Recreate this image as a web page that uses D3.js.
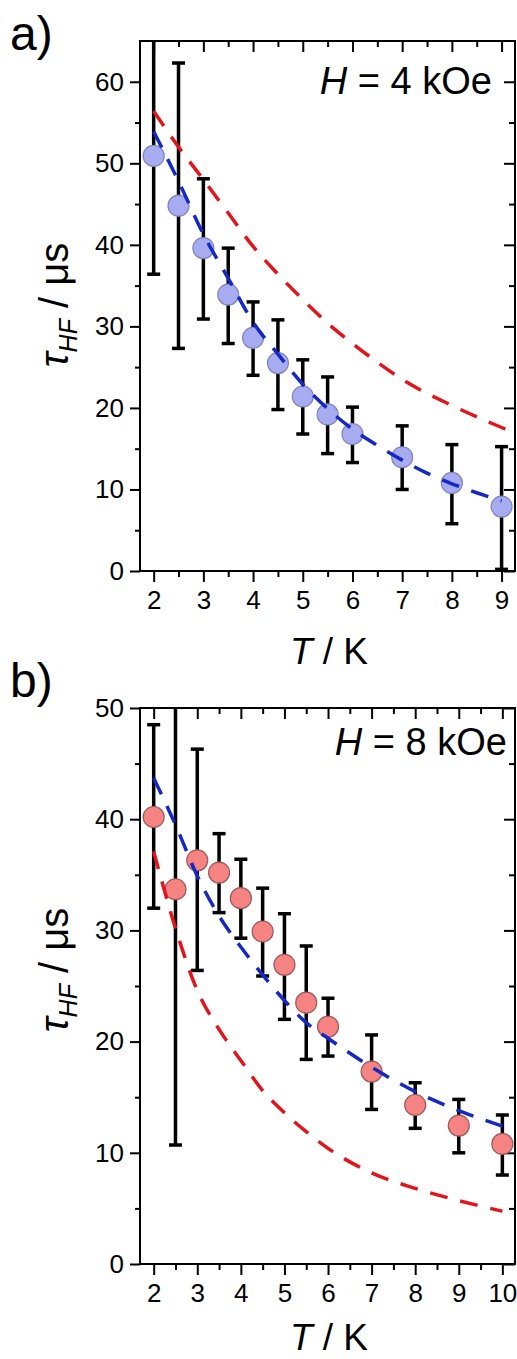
<!DOCTYPE html>
<html>
<head>
<meta charset="utf-8">
<script src="https://cdn.jsdelivr.net/npm/d3@7"></script>
<style>
  body { margin: 0; background: #fff; }
  text { font-family: "Liberation Sans", Arial, sans-serif; fill: #000; }
</style>
</head>
<body>
<script>
// panel a, H = 4 kOe
var tempA = [2, 2.5, 3, 3.5, 4, 4.5, 5, 5.5, 6, 7, 8, 9];
var tauA = [50.9, 44.8, 39.6, 33.9, 28.6, 25.5, 21.4, 19.2, 16.8, 13.95, 10.8, 7.9];
var tauA_lo = [36.4, 27.3, 30.9, 27.9, 24.0, 19.8, 16.8, 14.4, 13.3, 10.0, 5.8, 0.2];
var tauA_hi = [66.0, 62.3, 48.1, 39.6, 33.0, 30.8, 25.9, 23.8, 20.1, 17.8, 15.5, 15.25];
var fitBlueA_T = [2, 2.5, 3, 3.5, 4, 4.5, 5, 5.5, 6, 6.5, 7, 7.5, 8, 8.5, 9];
var fitBlueA = [53.9, 47.8, 41.3, 35.9, 30.5, 26.6, 22.9, 19.9, 17.4, 15.4, 13.6, 12.0, 10.7, 9.6, 8.6];
var fitRedA_T = [2, 2.5, 3, 3.5, 4, 4.5, 5, 5.5, 6, 6.5, 7, 8, 9, 9.27];
var fitRedA = [56.4, 52.0, 48.0, 43.9, 39.8, 36.4, 33.3, 30.4, 27.9, 25.6, 23.5, 20.3, 17.6, 16.9];

// panel b, H = 8 kOe
var tempB = [2, 2.5, 3, 3.5, 4, 4.5, 5, 5.5, 6, 7, 8, 9, 10];
var tauB = [40.2, 33.7, 36.3, 35.2, 32.9, 29.9, 26.9, 23.5, 21.35, 17.3, 14.3, 12.45, 10.8];
var tauB_lo = [32.0, 10.7, 26.4, 31.6, 29.3, 25.9, 22.0, 18.4, 18.7, 13.9, 12.2, 10.0, 8.0];
var tauB_hi = [48.5, 56.7, 46.3, 38.7, 36.4, 33.8, 31.5, 28.6, 23.9, 20.6, 16.3, 14.8, 13.4];
var fitBlueB_T = [2, 2.5, 3, 3.5, 4, 4.5, 5, 5.5, 6, 7, 8, 9, 10];
var fitBlueB = [43.7, 39.5, 34.9, 31.3, 28.5, 26.0, 23.7, 21.7, 20.3, 17.7, 15.5, 13.8, 12.4];
var fitRedB_T = [2, 2.5, 3, 3.5, 4, 4.5, 5, 5.5, 6, 7, 8, 9, 10];
var fitRedB = [37.1, 30.2, 24.6, 21.1, 18.3, 15.6, 13.6, 11.9, 10.4, 8.2, 6.8, 5.7, 4.75];

var xTicksA = [2, 3, 4, 5, 6, 7, 8, 9];
var xMinorA = [2.5, 3.5, 4.5, 5.5, 6.5, 7.5, 8.5];
var yTicksA = [0, 10, 20, 30, 40, 50, 60];
var yMinorA = [5, 15, 25, 35, 45, 55];
var xTicksB = [2, 3, 4, 5, 6, 7, 8, 9, 10];
var xMinorB = [2.5, 3.5, 4.5, 5.5, 6.5, 7.5, 8.5, 9.5];
var yTicksB = [0, 10, 20, 30, 40, 50];
var yMinorB = [5, 15, 25, 35, 45];

var W = 517, H = 1359;
var svg = d3.select("body").append("svg")
  .attr("width", W)
  .attr("height", H);

function drawPanel(p) {
  var g = svg.append("g");
  var x = d3.scaleLinear().domain(p.xDomain).range([p.left, p.right]);
  var y = d3.scaleLinear().domain(p.yDomain).range([p.bottom, p.top]);

  var clipId = "clip-" + p.id;
  svg.append("clipPath").attr("id", clipId)
    .append("rect")
    .attr("x", p.left).attr("y", p.top)
    .attr("width", p.right - p.left).attr("height", p.bottom - p.top);

  // axes: major + minor, bottom/left outward, top/right inward
  function styleAxis(sel) {
    sel.select(".domain").remove();
    sel.selectAll(".tick line").attr("stroke", "#000").attr("stroke-width", 2);
    sel.selectAll(".tick text").style("font-size", "26px").attr("fill", "#000");
  }
  g.append("g").attr("transform", "translate(0," + p.bottom + ")")
    .call(d3.axisBottom(x).tickValues(p.xTicks).tickSize(11).tickPadding(9).tickFormat(d3.format("d")))
    .call(styleAxis);
  g.append("g").attr("transform", "translate(0," + p.bottom + ")")
    .call(d3.axisBottom(x).tickValues(p.xMinor).tickSize(6).tickFormat(""))
    .call(styleAxis);
  g.append("g").attr("transform", "translate(" + p.left + ",0)")
    .call(d3.axisLeft(y).tickValues(p.yTicks).tickSize(10).tickPadding(6).tickFormat(d3.format("d")))
    .call(styleAxis);
  g.append("g").attr("transform", "translate(" + p.left + ",0)")
    .call(d3.axisLeft(y).tickValues(p.yMinor).tickSize(5).tickFormat(""))
    .call(styleAxis);
  g.append("g").attr("transform", "translate(0," + p.top + ")")
    .call(d3.axisTop(x).tickValues(p.xTicks).tickSize(-11).tickFormat(""))
    .call(styleAxis);
  g.append("g").attr("transform", "translate(0," + p.top + ")")
    .call(d3.axisTop(x).tickValues(p.xMinor).tickSize(-6).tickFormat(""))
    .call(styleAxis);
  g.append("g").attr("transform", "translate(" + p.right + ",0)")
    .call(d3.axisRight(y).tickValues(p.yTicks).tickSize(-11).tickFormat(""))
    .call(styleAxis);
  g.append("g").attr("transform", "translate(" + p.right + ",0)")
    .call(d3.axisRight(y).tickValues(p.yMinor).tickSize(-6).tickFormat(""))
    .call(styleAxis);

  g.append("rect")
    .attr("x", p.left).attr("y", p.top)
    .attr("width", p.right - p.left).attr("height", p.bottom - p.top)
    .attr("fill", "none").attr("stroke", "#000").attr("stroke-width", 2);

  // error bars
  var eb = g.append("g").attr("clip-path", "url(#" + clipId + ")");
  p.T.forEach(function(t, i) {
    var cx = x(t);
    eb.append("line")
      .attr("x1", cx).attr("x2", cx)
      .attr("y1", y(p.lo[i])).attr("y2", y(p.hi[i]))
      .attr("stroke", "#000").attr("stroke-width", 3.5);
    [p.lo[i], p.hi[i]].forEach(function(v) {
      eb.append("line")
        .attr("x1", cx - 6.5).attr("x2", cx + 6.5)
        .attr("y1", y(v)).attr("y2", y(v))
        .attr("stroke", "#000").attr("stroke-width", 3.5);
    });
  });

  // markers
  g.append("g").selectAll("circle")
    .data(p.T)
    .enter().append("circle")
    .attr("cx", function(d) { return x(d); })
    .attr("cy", function(d, i) { return y(p.tau[i]); })
    .attr("r", 10.5)
    .attr("fill", p.fill)
    .attr("stroke", p.stroke)
    .attr("stroke-width", 1.2);

  // fit curves
  var line = d3.line()
    .x(function(d) { return x(d[0]); })
    .y(function(d) { return y(d[1]); })
    .curve(d3.curveMonotoneX);
  var fits = g.append("g").attr("clip-path", "url(#" + clipId + ")");
  fits.append("path")
    .datum(d3.zip(p.redT, p.red))
    .attr("d", line)
    .attr("fill", "none").attr("stroke", "#e5141b")
    .attr("stroke-width", 3.5).attr("stroke-dasharray", "18,13");
  fits.append("path")
    .datum(d3.zip(p.blueT, p.blue))
    .attr("d", line)
    .attr("fill", "none").attr("stroke", "#1428c8")
    .attr("stroke-width", 3.5).attr("stroke-dasharray", "18,13");

  // labels
  svg.append("text")
    .attr("x", 10).attr("y", p.letterY)
    .style("font-size", "48px")
    .text(p.letter);

  var fl = svg.append("text")
    .attr("x", p.fieldX).attr("y", p.fieldY)
    .attr("text-anchor", "end")
    .style("font-size", "38px");
  fl.append("tspan").style("font-style", "italic").text("H");
  fl.append("tspan").text(" = " + p.field + " kOe");

  var xl = svg.append("text")
    .attr("x", 329).attr("y", p.xLabelY)
    .attr("text-anchor", "middle")
    .style("font-size", "37px");
  xl.append("tspan").style("font-style", "italic").text("T");
  xl.append("tspan").text(" / K");

  var yl = svg.append("text")
    .attr("transform", "translate(68," + p.yLabelY + ") rotate(-90)")
    .attr("text-anchor", "middle")
    .style("font-size", "40px");
  yl.append("tspan").style("font-style", "italic").text("τ");
  yl.append("tspan").style("font-style", "italic").style("font-size", "25px").attr("dy", 9).text("HF");
  yl.append("tspan").attr("dy", -9).text(" / μs");
}

drawPanel({
  id: "a", letter: "a)", letterY: 50,
  left: 140, right: 515, top: 41, bottom: 571,
  xDomain: [1.725, 9.27], yDomain: [0, 65],
  xTicks: xTicksA, xMinor: xMinorA, yTicks: yTicksA, yMinor: yMinorA,
  T: tempA, tau: tauA, lo: tauA_lo, hi: tauA_hi,
  blueT: fitBlueA_T, blue: fitBlueA, redT: fitRedA_T, red: fitRedA,
  fill: "#a7acf0", stroke: "#7f84c4",
  field: "4", fieldX: 492, fieldY: 94,
  xLabelY: 664, yLabelY: 305
});

drawPanel({
  id: "b", letter: "b)", letterY: 697,
  left: 140, right: 515, top: 708, bottom: 1264,
  xDomain: [1.686, 10.29], yDomain: [0, 50],
  xTicks: xTicksB, xMinor: xMinorB, yTicks: yTicksB, yMinor: yMinorB,
  T: tempB, tau: tauB, lo: tauB_lo, hi: tauB_hi,
  blueT: fitBlueB_T, blue: fitBlueB, redT: fitRedB_T, red: fitRedB,
  fill: "#f48382", stroke: "#a0585a",
  field: "8", fieldX: 507, fieldY: 755,
  xLabelY: 1350, yLabelY: 970
});
</script>
</body>
</html>
